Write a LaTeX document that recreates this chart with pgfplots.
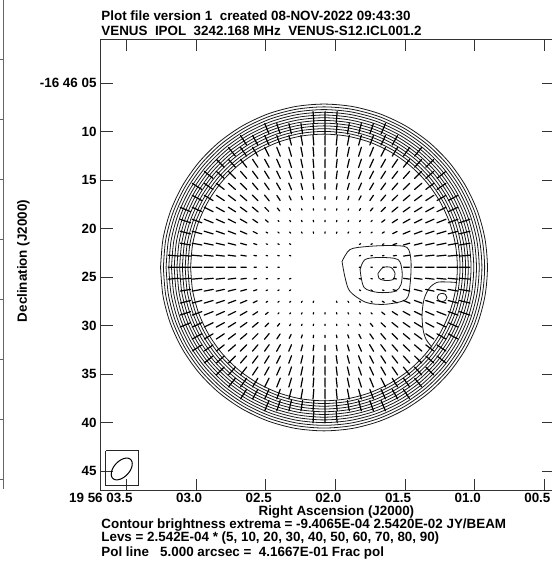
\documentclass[border=0pt]{standalone}
\usepackage{pgfplots}
\pgfplotsset{compat=1.18}
\usepackage{pgfplotstable}
\usepackage{fontspec}
\setmainfont{Liberation Sans}
\newcommand{\lab}{\fontsize{13.4}{13.4}\selectfont\bfseries}

% unit circle (cos, sin) used as the base shape of the limb contours and the beam
\pgfplotstableread{
c s
1 0
0.985 0.174
0.940 0.342
0.866 0.500
0.766 0.643
0.643 0.766
0.500 0.866
0.342 0.940
0.174 0.985
0 1
-0.174 0.985
-0.342 0.940
-0.500 0.866
-0.643 0.766
-0.766 0.643
-0.866 0.500
-0.940 0.342
-0.985 0.174
-1 0
-0.985 -0.174
-0.940 -0.342
-0.866 -0.500
-0.766 -0.643
-0.643 -0.766
-0.500 -0.866
-0.342 -0.940
-0.174 -0.985
0 -1
0.174 -0.985
0.342 -0.940
0.500 -0.866
0.643 -0.766
0.766 -0.643
0.866 -0.500
0.940 -0.342
0.985 -0.174
1 0
}\unitc

% column indices of the polarisation-vector grid
\pgfplotstableread{
i z
-12 0
-11 0
-10 0
-9 0
-8 0
-7 0
-6 0
-5 0
-4 0
-3 0
-2 0
-1 0
0 0
1 0
2 0
3 0
4 0
5 0
6 0
7 0
8 0
9 0
10 0
11 0
12 0
13 0
14 0
15 0
}\icol

\begin{document}
\begin{tikzpicture}
\begin{axis}[
  at={(100.7pt,73.3pt)}, anchor=south west,
  scale only axis, width=452.8pt, height=451.4pt,
  x dir=reverse,
  xmin=-22.46, xmax=24.22, ymin=-22.02, ymax=24.53,
  axis line style={black!80, line width=1pt},
  tick align=inside, xtick pos=both, ytick pos=both,
  major tick length=12pt,
  tick style={black!80, line width=1pt},
  xtick={21.54,14.36,7.18,0,-7.18,-14.36,-21.54},
  xticklabels={19 56 03.5,03.0,02.5,02.0,01.5,01.0,00.5},
  ytick={20,15,10,5,0,-5,-10,-15,-20},
  yticklabels={-16 46 05,10,15,20,25,30,35,40,45},
  tick label style={font=\lab, inner sep=0pt},
  xticklabel style={anchor=north east, xshift=6pt, yshift=-2.7pt},
  yticklabel style={anchor=east, xshift=-4pt},
  declare function={
    pdx(\a)=1.20*\a-1.31;
    pdy(\b)=1.19*\b-1.16;
    pr(\a,\b)=sqrt(pdx(\a)*pdx(\a)+pdy(\b)*pdy(\b));
    pf(\a,\b)=max(0.15,min(0.25*(pr(\a,\b)-6.1),0.78+0.06*(pr(\a,\b)-9.3)))/pr(\a,\b);
  },
  cont/.style={black!90, line width=0.8pt, smooth},
]
% limb contours
\pgfplotsinvokeforeach{16.85,16.56,16.28,16.00,15.72,15.44,15.16,14.88,14.60,14.31,14.03,13.75}{
  \addplot[cont] table[x expr={1.20+#1*\thisrow{c}}, y expr={1.00+#1*\thisrow{s}}]{\unitc};
}
% inner structure
\addplot[cont] coordinates {(-0.66,1.62) (-1.48,2.85) (-3.24,3.16) (-5.61,3.26) (-7.36,3.06) (-7.77,1.62) (-7.67,-0.75) (-7.26,-2.29) (-5.09,-2.80) (-3.13,-2.60) (-1.48,-1.47) (-0.97,-0.03) (-0.66,1.62)};
\addplot[cont] coordinates {(-2.52,0.79) (-3.03,1.82) (-4.58,2.03) (-6.43,1.82) (-6.85,0.59) (-6.74,-0.75) (-6.12,-1.47) (-4.37,-1.57) (-2.93,-1.06) (-2.52,0.79)};
\addplot[cont] coordinates {(-4.37,0.38) (-4.89,1.00) (-5.71,1.00) (-6.12,0.38) (-5.92,-0.24) (-5.09,-0.34) (-4.47,-0.13) (-4.37,0.38)};
\addplot[cont] coordinates {(-10.47,-2.09) (-10.62,-1.79) (-10.97,-1.67) (-11.32,-1.79) (-11.47,-2.09) (-11.32,-2.39) (-10.97,-2.51) (-10.62,-2.39) (-10.47,-2.09)};
\addplot[cont] coordinates {(-12.52,-0.55) (-11.38,-0.49) (-10.42,-0.55) (-9.63,-1.16) (-9.11,-2.29) (-8.91,-3.84) (-9.01,-5.38) (-9.32,-6.41) (-9.94,-7.23)};
% beam
\addplot[black!85, line width=0.9pt] coordinates {(23.70,-17.90) (20.37,-17.90) (20.37,-21.43) (23.70,-21.43) (23.70,-17.90)};
\addplot[black, line width=1pt, smooth] table[x expr={22.05-0.914*\thisrow{c}+0.585*\thisrow{s}}, y expr={-19.78+0.980*\thisrow{c}+0.546*\thisrow{s}}]{\unitc};
% polarisation vectors
\pgfplotsinvokeforeach{-13,-12,-11,-10,-9,-8,-7,-6,-5,-4,-3,-2,-1,0,1,2,3,4,5,6,7,8,9,10,11,12,13,14,15}{
  \addplot[black, line width=1.2pt, line cap=round,
    quiver={u={-pf(\thisrow{i},#1)*pdx(\thisrow{i})},
            v={-pf(\thisrow{i},#1)*pdy(#1)},
            every arrow/.append style={line width=1.2pt, line cap=round}},
    restrict expr to domain={pr(\thisrow{i},#1)}{3.6:15.6}]
  table[x expr={-0.11+1.20*\thisrow{i}+0.5*pf(\thisrow{i},#1)*pdx(\thisrow{i})},
        y expr={-0.16+1.19*#1+0.5*pf(\thisrow{i},#1)*pdy(#1)}]{\icol};
}
\end{axis}
% fragment of the neighbouring frame at the left edge
\draw[black!60, line width=1pt] (3.5pt,564pt) -- (3.5pt,75pt);
\foreach \yy in {504,444,384,324,264,204,144,84} {\draw[black!60, line width=1pt] (0pt,\yy pt) -- (3.5pt,\yy pt);}
% texts
\node[anchor=base west, inner sep=0pt, font=\lab] at (101.2pt,543.2pt) {Plot file version 1\ \ created 08-NOV-2022 09:43:30};
\node[anchor=base west, inner sep=0pt, font=\lab] at (101.2pt,528.8pt) {VENUS\ \ IPOL\ \ 3242.168 MHz\ \ VENUS-S12.ICL001.2};
\node[anchor=base, inner sep=0pt, font=\lab] at (336.4pt,48pt) {Right Ascension (J2000)};
\node[anchor=base west, inner sep=0pt, font=\lab] at (101.2pt,35.5pt) {Contour brightness extrema = -9.4065E-04 2.5420E-02 JY/BEAM};
\node[anchor=base west, inner sep=0pt, font=\lab] at (101.2pt,22pt) {Levs = 2.542E-04 * (5, 10, 20, 30, 40, 50, 60, 70, 80, 90)};
\node[anchor=base west, inner sep=0pt, font=\lab] at (101.2pt,8pt) {Pol line\ \ \ 5.000 arcsec =\ \ 4.1667E-01 Frac pol};
\node[rotate=90, anchor=center, inner sep=0pt, font=\lab] at (23.3pt,303pt) {Declination (J2000)};
\pgfresetboundingbox
\useasboundingbox (0pt,0pt) rectangle (551pt,564pt);
\end{tikzpicture}
\end{document}
